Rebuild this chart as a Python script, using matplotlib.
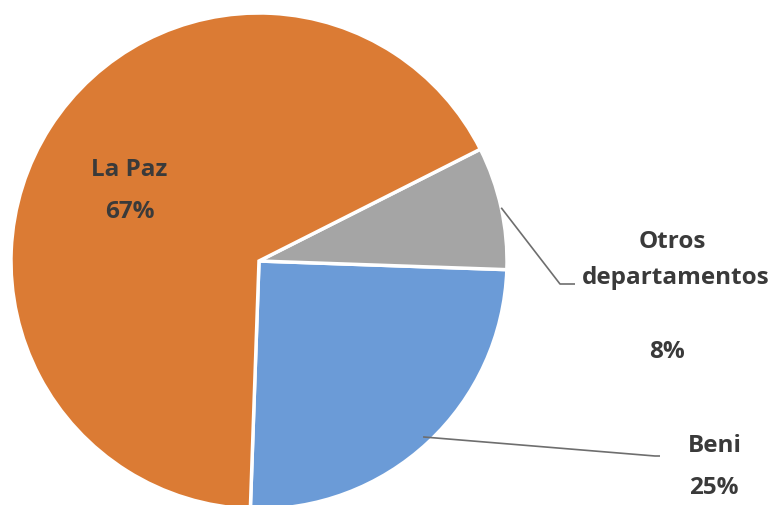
import numpy as np
import matplotlib
matplotlib.use("Agg")
import matplotlib.pyplot as plt

categories = ["Beni", "Otros\ndepartamentos", "La Paz"]
values = [25, 8, 67]
colors = ["#6B9BD7", "#A5A5A5", "#DB7B34"]

W, H = 775, 506
fig = plt.figure(figsize=(W / 100, H / 100), dpi=100)
ax = fig.add_axes([0, 0, 1, 1])
ax.set_xlim(0, W)
ax.set_ylim(0, H)
ax.set_aspect("equal")
ax.axis("off")

cx, cy, r = 259, H - 262, 248
wedges, _ = ax.pie(values, colors=colors, startangle=-92, counterclock=True,
                   radius=r, center=(cx, cy), frame=True,
                   wedgeprops=dict(edgecolor="white", linewidth=2.5))
ax.set_xlim(0, W)
ax.set_ylim(0, H)
ax.axis("off")

font = dict(family=["Open Sans", "DejaVu Sans"], fontweight="bold",
            fontsize=17.5, color="#3A3A3A")

pct = [f"{v}%" for v in values]

# La Paz label inside
ax.text(129, H - 170, categories[2], ha="center", va="center", **font)
ax.text(130, H - 212, pct[2], ha="center", va="center", **font)

# Otros label
ax.text(672, H - 242, "Otros", ha="center", va="center", **font)
ax.text(676, H - 278, "departamentos", ha="center", va="center", **font)
ax.text(667, H - 352, pct[1], ha="center", va="center", **font)

# Beni label
ax.text(715, H - 446, categories[0], ha="center", va="center", **font)
ax.text(714, H - 488, pct[0], ha="center", va="center", **font)

def anchor(w, rr):
    th = np.deg2rad((w.theta1 + w.theta2) / 2)
    return cx + rr * np.cos(th), cy + rr * np.sin(th)

lc = "#6E6E6E"
x0, y0 = anchor(wedges[1], r * 1.0)
ax.plot([x0, 560, 575], [y0, H - 285, H - 285], color=lc, lw=1.2,
        solid_capstyle="butt")
x0, y0 = anchor(wedges[0], r * 0.97)
ax.plot([x0, 655, 660], [y0, H - 457, H - 457], color=lc, lw=1.2,
        solid_capstyle="butt")

fig.savefig("out.png", dpi=100, facecolor="white")
